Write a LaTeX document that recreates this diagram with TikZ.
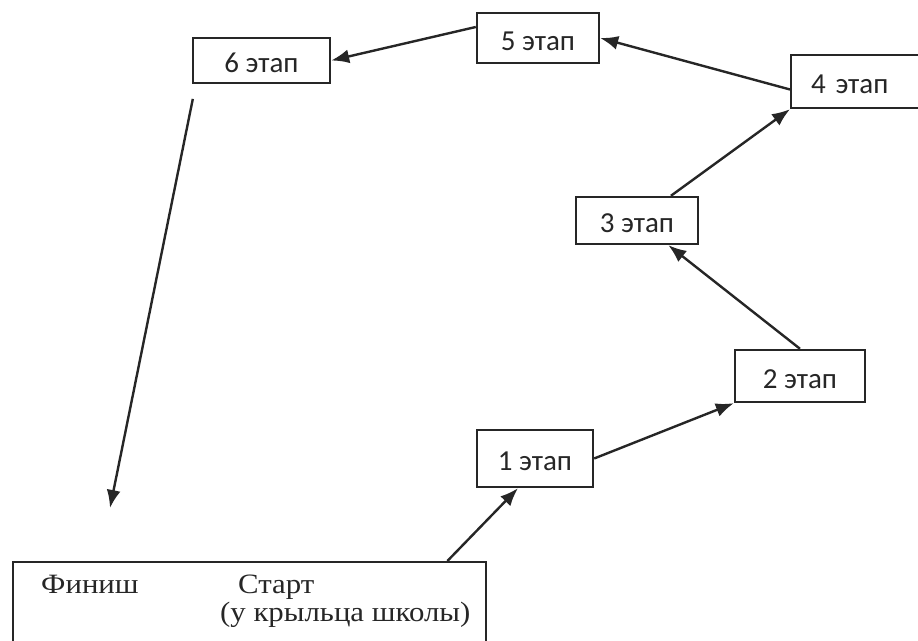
\documentclass[tikz,border=0pt]{standalone}
\usepackage{fontspec}
\setmainfont{Liberation Serif}[FakeStretch=1.1]
\newfontfamily\etapfont{Carlito}
\usetikzlibrary{arrows.meta}
\begin{document}
\begin{tikzpicture}[x=0.5pt,y=-0.5pt,line width=1.2pt,color=black!85,>={Latex[length=9pt,width=7pt]},
  etap/.style={draw,inner sep=0pt,text height=12.5pt,text depth=0pt,font=\etapfont\fontsize{14.5}{17}\selectfont},
  sign/.style={anchor=base west,inner sep=0pt,font=\fontsize{14}{17}\selectfont}]
  \useasboundingbox (0,0) rectangle (918,641);
  \clip (0,0) rectangle (918,641);
  \node[etap,minimum width=58pt,minimum height=28.5pt](etap1) at (535,458.5) {1 этап};
  \node[etap,minimum width=65pt,minimum height=26pt](etap2) at (800,376) {2 этап};
  \node[etap,minimum width=61pt,minimum height=23.5pt](etap3) at (637,220.5) {3 этап};
  \node[etap,anchor=west,minimum height=26.5pt,text width=58pt,inner xsep=10pt,align=left](etap4) at (790,81.5) {4 этап};
  \node[etap,minimum width=61pt,minimum height=25pt](etap5) at (538,38) {5 этап};
  \node[etap,minimum width=68.5pt,minimum height=22.5pt](etap6) at (261.5,60.5) {6 этап};
  \node[draw,anchor=north west,minimum width=236.5pt,minimum height=60pt](base) at (12,561) {};
  \node[sign](finish) at (40,594) {Финиш};
  \node[sign](start) at (237,594) {Старт};
  \node[sign](porch) at (219,622) {(у крыльца школы)};
  \coordinate (exit) at ([xshift=-20pt]base.north east);
  \coordinate (arrive) at (110,508);
  \draw[->] (exit)--([xshift=-8.5pt]etap1.south);
  \draw[->] (etap1.east)--(etap2.south west);
  \draw[->] (etap2.north)--(etap3);
  \draw[->] (etap3)--(etap4.south west);
  \draw[->] ([yshift=-4pt]etap4.west)--(etap5.east);
  \draw[->] ([yshift=5.5pt]etap5.west)--(etap6.east);
  \draw[->,shorten <=7.5pt] ([xshift=2pt]etap6.south west)--(arrive);
\end{tikzpicture}
\end{document}
